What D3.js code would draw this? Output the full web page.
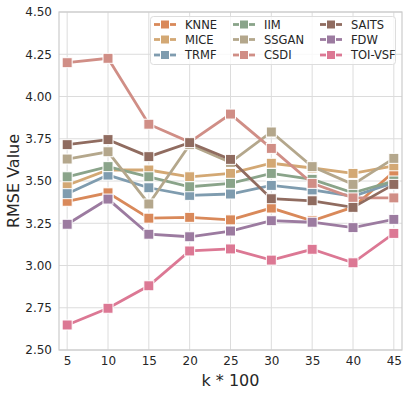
<!DOCTYPE html>
<html>
<head>
<meta charset="utf-8">
<script src="https://cdn.jsdelivr.net/npm/d3@7"></script>
<style>
  body { margin: 0; background: #fff; }
  text { font-family: "DejaVu Sans", sans-serif; }
</style>
</head>
<body>
<div id="chart"></div>
<script>
var width = 407;
var height = 394;

// k values (x100)
var kValues = [5, 10, 15, 20, 25, 30, 35, 40, 45];
var yTicks = [2.50, 2.75, 3.00, 3.25, 3.50, 3.75, 4.00, 4.25, 4.50];

var methods = ["KNNE", "MICE", "TRMF", "IIM", "SSGAN", "CSDI", "SAITS", "FDW", "TOI-VSF"];
var colors  = ["#d9895a", "#d3a874", "#7f9caf", "#8aa48a", "#b4a78c", "#d08e86", "#906c60", "#9c7ba0", "#dc7894"];

var knne   = [3.38, 3.43, 3.28, 3.285, 3.27, 3.34, 3.265, 3.345, 3.555];
var mice   = [3.475, 3.565, 3.565, 3.525, 3.545, 3.605, 3.577, 3.545, 3.59];
var trmf   = [3.425, 3.535, 3.46, 3.415, 3.423, 3.474, 3.447, 3.41, 3.49];
var iim    = [3.525, 3.585, 3.525, 3.466, 3.486, 3.545, 3.51, 3.43, 3.50];
var ssgan  = [3.63, 3.673, 3.364, 3.715, 3.61, 3.79, 3.585, 3.48, 3.634];
var csdi   = [4.20, 4.226, 3.836, 3.73, 3.896, 3.693, 3.486, 3.40, 3.40];
var saits  = [3.715, 3.745, 3.644, 3.727, 3.628, 3.395, 3.383, 3.344, 3.48];
var fdw    = [3.244, 3.393, 3.185, 3.17, 3.204, 3.265, 3.256, 3.224, 3.273];
var toivsf = [2.648, 2.747, 2.88, 3.086, 3.098, 3.032, 3.096, 3.016, 3.19];

var seriesValues = [knne, mice, trmf, iim, ssgan, csdi, saits, fdw, toivsf];

var margin = {top: 12, right: 5, bottom: 44, left: 59};

var svg = d3.select("#chart")
            .append("svg")
            .attr("width", width)
            .attr("height", height);

var x = d3.scaleLinear()
          .domain([4, 46])
          .range([margin.left, width - margin.right]);

var y = d3.scaleLinear()
          .domain([2.5, 4.5])
          .range([height - margin.bottom, margin.top]);

// grid
svg.append("g")
   .selectAll("line.vg")
   .data(kValues)
   .join("line")
   .attr("x1", d => x(d)).attr("x2", d => x(d))
   .attr("y1", y(2.5)).attr("y2", y(4.5))
   .attr("stroke", "#dcdcdc")
   .attr("stroke-width", 1);

svg.append("g")
   .selectAll("line.hg")
   .data(yTicks)
   .join("line")
   .attr("x1", x(4)).attr("x2", x(46))
   .attr("y1", d => y(d)).attr("y2", d => y(d))
   .attr("stroke", "#dcdcdc")
   .attr("stroke-width", 1);

// frame
svg.append("rect")
   .attr("x", x(4)).attr("y", y(4.5))
   .attr("width", x(46) - x(4))
   .attr("height", y(2.5) - y(4.5))
   .attr("fill", "none")
   .attr("stroke", "#cccccc")
   .attr("stroke-width", 1.2);

// axes
var xAxis = svg.append("g")
               .attr("transform", "translate(0," + y(2.5) + ")")
               .call(d3.axisBottom(x).tickValues(kValues).tickSize(0).tickPadding(6));
xAxis.select(".domain").remove();
xAxis.selectAll("text").attr("font-size", 12).attr("fill", "#262626")
     .style("font-family", "DejaVu Sans, sans-serif");

var yAxis = svg.append("g")
               .attr("transform", "translate(" + x(4) + ",0)")
               .call(d3.axisLeft(y).tickValues(yTicks).tickFormat(d3.format(".2f")).tickSize(0).tickPadding(7));
yAxis.select(".domain").remove();
yAxis.selectAll("text").attr("font-size", 12).attr("fill", "#262626")
     .style("font-family", "DejaVu Sans, sans-serif");

svg.append("text")
   .attr("x", (x(4) + x(46)) / 2)
   .attr("y", 386)
   .attr("text-anchor", "middle")
   .attr("font-size", 16)
   .attr("fill", "#262626")
   .text("k * 100");

svg.append("text")
   .attr("transform", "translate(19," + (y(3.5)) + ") rotate(-90)")
   .attr("text-anchor", "middle")
   .attr("font-size", 16)
   .attr("fill", "#262626")
   .text("RMSE Value");

// lines + markers
var lineGenerator = d3.line()
                      .x((d, i) => x(kValues[i]))
                      .y(d => y(d));

var ms = 10;
seriesValues.forEach((vals, s) => {
    var g = svg.append("g");
    g.append("path")
     .attr("d", lineGenerator(vals))
     .attr("stroke", colors[s])
     .attr("stroke-width", 2.8)
     .attr("fill", "none");
    g.selectAll("rect")
     .data(vals)
     .join("rect")
     .attr("x", (d, i) => x(kValues[i]) - ms / 2)
     .attr("y", d => y(d) - ms / 2)
     .attr("width", ms)
     .attr("height", ms)
     .attr("fill", colors[s])
     .attr("stroke", "#ffffff")
     .attr("stroke-width", 1);
});

// legend
var legend = svg.append("g");
legend.append("rect")
      .attr("x", 150.5).attr("y", 16.5)
      .attr("width", 245).attr("height", 48)
      .attr("rx", 3)
      .attr("fill", "#ffffff")
      .attr("fill-opacity", 0.8)
      .attr("stroke", "#dddddd")
      .attr("stroke-width", 1);

var colX = [165, 244, 331];
var rowY = [24.5, 39.5, 55];
methods.forEach((m, i) => {
    var cx = colX[Math.floor(i / 3)];
    var cy = rowY[i % 3];
    legend.append("line")
          .attr("x1", cx - 11).attr("x2", cx + 11)
          .attr("y1", cy).attr("y2", cy)
          .attr("stroke", colors[i])
          .attr("stroke-width", 2.8);
    legend.append("rect")
          .attr("x", cx - 4.5).attr("y", cy - 4.5)
          .attr("width", 9).attr("height", 9)
          .attr("fill", colors[i])
          .attr("stroke", "#ffffff")
          .attr("stroke-width", 1);
    legend.append("text")
          .attr("x", cx + 20)
          .attr("y", cy)
          .attr("dy", "0.35em")
          .attr("font-size", 11.5)
          .attr("fill", "#262626")
          .text(m);
});
</script>
</body>
</html>
